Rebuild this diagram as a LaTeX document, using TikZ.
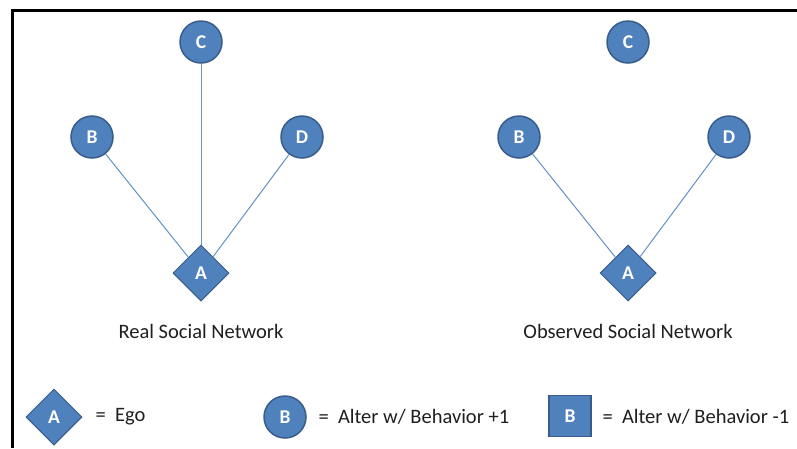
\documentclass[tikz,border=0pt]{standalone}
\usepackage{fontspec}
\setmainfont{Carlito}
\usetikzlibrary{shapes.geometric}
\definecolor{nodefill}{HTML}{4F81BD}
\definecolor{nodeline}{HTML}{385D8A}
\definecolor{edgecol}{HTML}{4A7EBB}
\begin{document}
\begin{tikzpicture}[x=1pt,y=-1pt,
  alter/.style={circle,fill=nodefill,draw=nodeline,line width=1.5pt,minimum size=42pt,inner sep=0pt,text=white,font=\fontsize{19.5}{19.5}\selectfont\bfseries},
  ego/.style={diamond,fill=nodefill,draw=nodeline,line width=1pt,minimum size=56pt,inner sep=0pt,text=white,font=\fontsize{19.5}{19.5}\selectfont\bfseries},
  sqalter/.style={rectangle,fill=nodefill,draw=nodeline,line width=1.5pt,minimum width=42pt,minimum height=41pt,inner sep=0pt,text=white,font=\fontsize{19.5}{19.5}\selectfont\bfseries},
  tie/.style={draw=edgecol!85,line width=1pt},
  lbl/.style={font=\fontsize{20.5}{20.5}\selectfont,text=black!88}]
\useasboundingbox (0,0) rectangle (797,448);
\fill[white] (0,0) rectangle (797,448);
\draw[line width=3.5pt] (797,10.5) -- (12.5,10.5) -- (12.5,448);
% Real network
\node[alter] (c1) at (201,42) {C};
\node[alter] (b1) at (92,137) {B};
\node[alter] (d1) at (302,137) {D};
\node[ego] (a1) at (201,273) {A};
\draw[tie] (c1) -- (a1);
\draw[tie] (b1) -- (a1);
\draw[tie] (d1) -- (a1);
\node[lbl] (t1) at (201,331) {Real Social Network};
% Observed network
\node[alter] (c2) at (628,42) {C};
\node[alter] (b2) at (519,137) {B};
\node[alter] (d2) at (729,137) {D};
\node[ego] (a2) at (628,273) {A};
\draw[tie] (b2) -- (a2);
\draw[tie] (d2) -- (a2);
\node[lbl] (t2) at (628,331) {Observed Social Network};
% Legend
\node[ego] (la) at (54,417) {A};
\node[lbl,anchor=west] (le) at (92,417) {=\ \ Ego};
\node[alter] (lb) at (285,417) {B};
\node[lbl,anchor=west] (lp) at (315,417) {=\ \ Alter w/ Behavior +1};
\node[sqalter] (ls) at (570,416) {B};
\node[lbl,anchor=west] (lm) at (599,417) {=\ \ Alter w/ Behavior -1};
\end{tikzpicture}
\end{document}
